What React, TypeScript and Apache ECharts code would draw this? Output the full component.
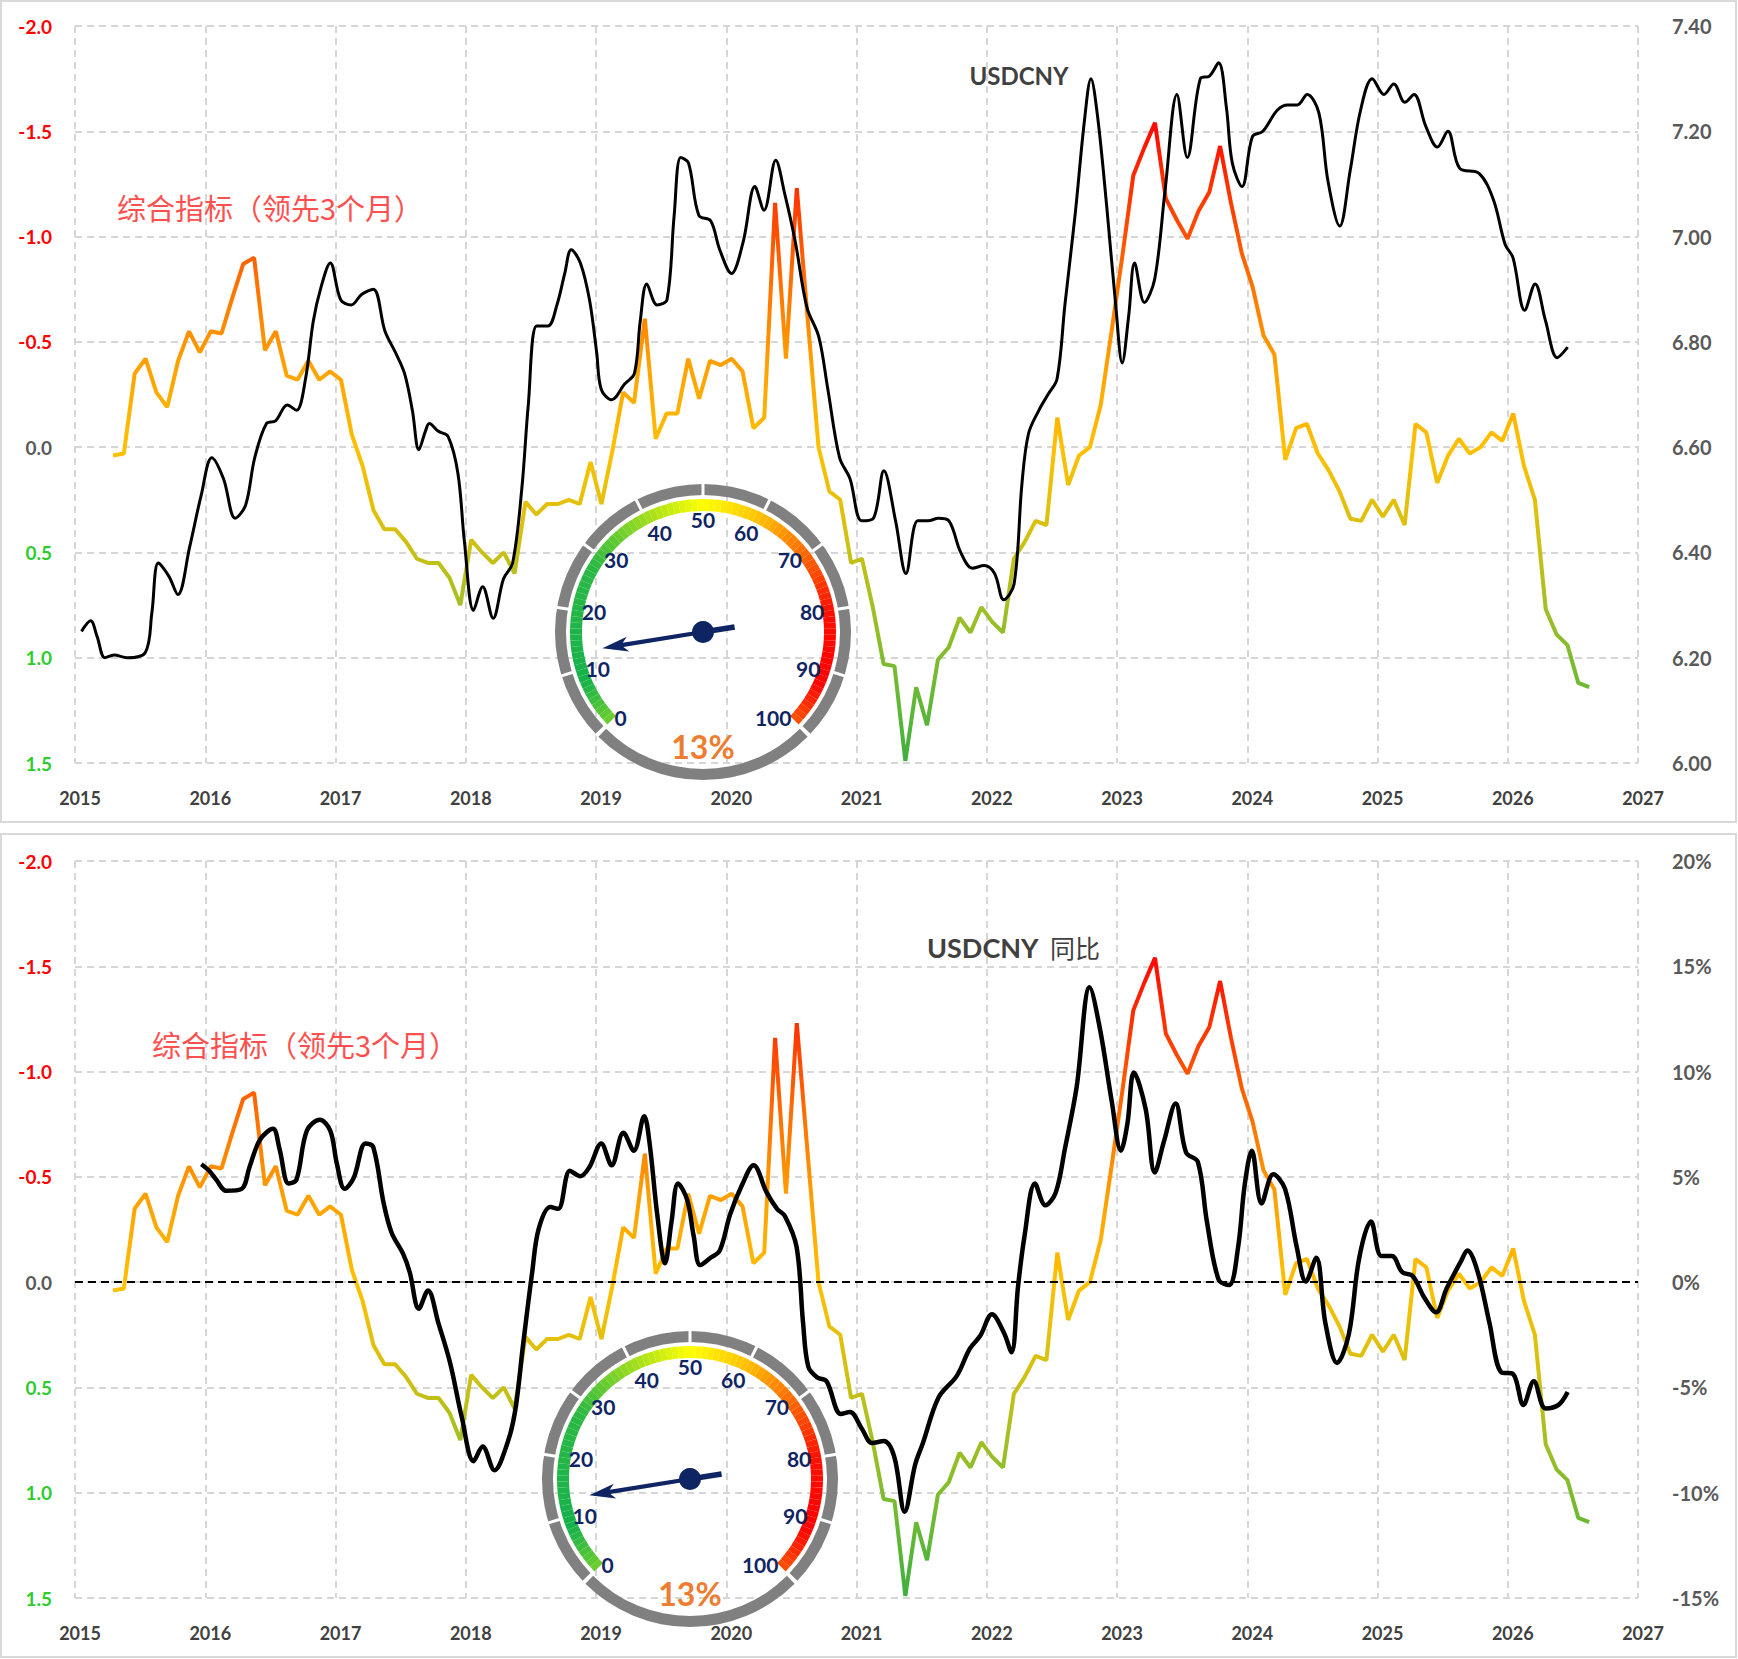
import React, { useEffect, useRef } from "react";
import * as echarts from "echarts";

// 横轴（年份）与两侧纵轴
const X_MIN = 2015;
const X_MAX = 2027;
const IND_MIN = -2;
const IND_MAX = 1.5;
const IND_STEP = 0.5;
const FX_MIN = 6;
const FX_MAX = 7.4;
const FX_STEP = 0.2;
const YOY_MIN = -15;
const YOY_MAX = 20;
const YOY_STEP = 5;

// 综合指标（领先3个月），月度，从 2015 年 4 月中开始
const indicatorStart = 2015 + 3.5 / 12;
const indicator = [
  0.04, 0.03, -0.35, -0.42, -0.26, -0.19, -0.41, -0.55, -0.45, -0.55,
  -0.54, -0.71, -0.87, -0.9, -0.46, -0.55, -0.34, -0.32, -0.41, -0.32,
  -0.36, -0.32, -0.06, 0.09, 0.3, 0.39, 0.39, 0.45, 0.53, 0.55,
  0.55, 0.62, 0.75, 0.44, 0.5, 0.55, 0.5, 0.6, 0.26, 0.32,
  0.27, 0.27, 0.25, 0.27, 0.07, 0.27, 0.02, -0.26, -0.21, -0.61,
  -0.04, -0.16, -0.16, -0.42, -0.23, -0.41, -0.39, -0.42, -0.36, -0.09,
  -0.14, -1.16, -0.42, -1.23, -0.61, 0.0, 0.21, 0.25, 0.55, 0.53,
  0.76, 1.03, 1.04, 1.49, 1.14, 1.32, 1.01, 0.95, 0.81, 0.88,
  0.76, 0.83, 0.88, 0.53, 0.45, 0.35, 0.37, -0.14, 0.18, 0.04,
  0.0, -0.2, -0.55, -0.91, -1.29, -1.42, -1.54, -1.18, -1.08, -0.99,
  -1.12, -1.21, -1.43, -1.16, -0.92, -0.76, -0.53, -0.44, 0.06, -0.09,
  -0.11, 0.03, 0.11, 0.21, 0.34, 0.35, 0.25, 0.33, 0.25, 0.37,
  -0.11, -0.07, 0.17, 0.04, -0.04, 0.03, 0.0, -0.07, -0.03, -0.16,
  0.09, 0.25, 0.77, 0.89, 0.94, 1.12, 1.14,
];

// USDCNY 汇率 [年份, 点位]
const usdcny: [number, number][] = [
  [2015.05, 6.25], [2015.12, 6.27], [2015.17, 6.24], [2015.23, 6.2], [2015.3, 6.205],
  [2015.4, 6.2], [2015.54, 6.21], [2015.59, 6.285], [2015.64, 6.38], [2015.72, 6.355],
  [2015.79, 6.32], [2015.88, 6.41], [2015.97, 6.51],
  [2016.05, 6.58], [2016.14, 6.54], [2016.23, 6.465], [2016.31, 6.49], [2016.38, 6.58],
  [2016.47, 6.645], [2016.54, 6.65], [2016.63, 6.68], [2016.7, 6.67], [2016.77, 6.73],
  [2016.83, 6.84], [2016.89, 6.905], [2016.96, 6.95],
  [2017.04, 6.88], [2017.12, 6.87], [2017.2, 6.89], [2017.29, 6.9], [2017.38, 6.82],
  [2017.46, 6.78], [2017.53, 6.74], [2017.59, 6.67], [2017.64, 6.595], [2017.69, 6.63],
  [2017.72, 6.645], [2017.79, 6.63], [2017.865, 6.62], [2017.94, 6.55], [2017.99, 6.42],
  [2018.06, 6.29], [2018.13, 6.335], [2018.21, 6.275], [2018.29, 6.35], [2018.36, 6.38],
  [2018.43, 6.52], [2018.48, 6.68], [2018.545, 6.83], [2018.63, 6.83], [2018.7, 6.87],
  [2018.76, 6.93], [2018.81, 6.975], [2018.88, 6.95], [2018.95, 6.88],
  [2019.005, 6.78], [2019.04, 6.71], [2019.12, 6.69], [2019.22, 6.72], [2019.295, 6.74],
  [2019.34, 6.84], [2019.39, 6.91], [2019.47, 6.87], [2019.545, 6.88], [2019.6, 7.04],
  [2019.65, 7.15], [2019.71, 7.14], [2019.79, 7.04], [2019.88, 7.03], [2019.95, 6.975],
  [2020.04, 6.93], [2020.13, 6.99], [2020.22, 7.095], [2020.29, 7.05], [2020.38, 7.145],
  [2020.45, 7.08], [2020.53, 6.99], [2020.62, 6.865], [2020.71, 6.81], [2020.78, 6.71],
  [2020.87, 6.58], [2020.95, 6.54],
  [2021.04, 6.46], [2021.13, 6.465], [2021.21, 6.555], [2021.3, 6.46], [2021.38, 6.36],
  [2021.47, 6.46], [2021.55, 6.46], [2021.63, 6.465], [2021.71, 6.46], [2021.8, 6.4],
  [2021.89, 6.37], [2021.98, 6.375],
  [2022.06, 6.36], [2022.13, 6.31], [2022.21, 6.34], [2022.27, 6.53], [2022.32, 6.625],
  [2022.4, 6.67], [2022.47, 6.7], [2022.54, 6.73], [2022.6, 6.87], [2022.68, 7.045],
  [2022.75, 7.22], [2022.8, 7.3], [2022.85, 7.23], [2022.92, 7.06], [2022.99, 6.87],
  [2023.04, 6.76], [2023.09, 6.85], [2023.135, 6.95], [2023.21, 6.875], [2023.29, 6.92],
  [2023.37, 7.09], [2023.46, 7.27], [2023.54, 7.15], [2023.64, 7.3], [2023.71, 7.305],
  [2023.78, 7.33], [2023.84, 7.245], [2023.885, 7.14], [2023.96, 7.095],
  [2024.04, 7.19], [2024.12, 7.2], [2024.23, 7.24], [2024.31, 7.25], [2024.385, 7.25],
  [2024.46, 7.27], [2024.55, 7.235], [2024.62, 7.105], [2024.71, 7.02], [2024.79, 7.125],
  [2024.87, 7.24], [2024.96, 7.3],
  [2025.05, 7.27], [2025.125, 7.29], [2025.21, 7.255], [2025.28, 7.27], [2025.37, 7.21],
  [2025.46, 7.17], [2025.54, 7.2], [2025.63, 7.13], [2025.78, 7.12], [2025.89, 7.07],
  [2025.98, 6.985],
  [2026.04, 6.96], [2026.13, 6.86], [2026.21, 6.91], [2026.29, 6.84], [2026.38, 6.77],
  [2026.46, 6.79],
];

// USDCNY 同比 % [年份, 同比]
const usdcnyYoy: [number, number][] = [
  [2015.97, 5.6], [2016.03, 5.29], [2016.085, 4.86], [2016.16, 4.34], [2016.28, 4.43],
  [2016.34, 5.47], [2016.42, 6.76], [2016.52, 7.28], [2016.57, 6.33], [2016.64, 4.69],
  [2016.7, 4.86], [2016.78, 7.19], [2016.88, 7.71], [2016.96, 7.19],
  [2017.01, 5.64], [2017.07, 4.43], [2017.14, 4.95], [2017.23, 6.59], [2017.29, 6.41],
  [2017.37, 3.74], [2017.43, 2.36], [2017.52, 1.33], [2017.57, 0.47], [2017.64, -1.26],
  [2017.71, -0.4], [2017.79, -1.95], [2017.88, -3.84], [2017.97, -6.43],
  [2018.06, -8.5], [2018.13, -7.81], [2018.22, -8.93], [2018.32, -7.64], [2018.38, -6.09],
  [2018.44, -2.98], [2018.51, 0.47], [2018.56, 2.53], [2018.65, 3.57], [2018.71, 3.48],
  [2018.8, 5.29], [2018.88, 5.03], [2018.95, 5.47],
  [2019.04, 6.59], [2019.12, 5.55], [2019.21, 7.1], [2019.29, 6.24], [2019.37, 7.88],
  [2019.41, 6.67], [2019.47, 3.22], [2019.53, 0.9], [2019.58, 2.88], [2019.63, 4.69],
  [2019.7, 3.91], [2019.75, 2.19], [2019.8, 0.81], [2019.88, 1.16], [2019.95, 1.5],
  [2020.03, 3.22], [2020.12, 4.6], [2020.21, 5.55], [2020.31, 4.26], [2020.39, 3.48],
  [2020.45, 3.14], [2020.54, 1.67], [2020.59, -1.95], [2020.63, -4.02], [2020.7, -4.53],
  [2020.77, -4.71], [2020.88, -6.26], [2020.95, -6.17],
  [2021.04, -6.95], [2021.12, -7.64], [2021.21, -7.55], [2021.29, -8.3], [2021.37, -10.9],
  [2021.45, -8.67], [2021.51, -7.64], [2021.63, -5.48], [2021.77, -4.45], [2021.87, -3.16],
  [2021.95, -2.55],
  [2022.04, -1.52], [2022.13, -2.38], [2022.19, -3.33], [2022.24, -0.22], [2022.29, 2.19],
  [2022.37, 4.69], [2022.45, 3.65], [2022.53, 4.26], [2022.6, 6.33], [2022.69, 9.26],
  [2022.79, 14.0], [2022.87, 12.0], [2022.96, 8.57],
  [2023.03, 6.24], [2023.08, 7.53], [2023.13, 9.95], [2023.22, 8.22], [2023.29, 5.21],
  [2023.36, 6.67], [2023.45, 8.48], [2023.53, 6.16], [2023.62, 5.72], [2023.69, 2.88],
  [2023.78, 0.12], [2023.86, -0.14], [2023.93, 1.67], [2023.98, 4.6],
  [2024.035, 6.24], [2024.11, 3.74], [2024.2, 5.12], [2024.29, 4.43], [2024.38, 1.67],
  [2024.45, 0.03], [2024.53, 1.16], [2024.6, -1.95], [2024.69, -3.84], [2024.78, -2.47],
  [2024.86, 1.16], [2024.95, 2.88],
  [2025.03, 1.24], [2025.11, 1.24], [2025.19, 0.47], [2025.27, 0.29], [2025.36, -0.74],
  [2025.45, -1.43], [2025.53, -0.31], [2025.64, 0.98], [2025.69, 1.5], [2025.77, 0.47],
  [2025.86, -1.95], [2025.95, -4.28],
  [2026.04, -4.36], [2026.12, -5.83], [2026.2, -4.71], [2026.29, -6.0], [2026.39, -5.83],
  [2026.46, -5.22],
];

// 仪表盘读数
const gaugeValue = 13;

const INDICATOR_TITLE = "综合指标（领先3个月）";

const NAVY = "#0f2463";
const GRAY_TEXT = "#595959";
const GRID_LINE = { color: "#d6d6d6", width: 2, type: [7, 5] as number[] };

// 指标线按数值着色：负值偏红，正值偏绿
const indicatorColors = [
  "#ff0000", "#ff3600", "#ff6e00", "#ffa000", "#ffc000",
  "#d6c010", "#9cbf26", "#64b836", "#30ab42",
];

// 仪表盘色带
const arcStops: [number, string][] = [
  [0, "#6fcf2e"], [0.08, "#16b14b"], [0.28, "#2cb944"], [0.4, "#9ddc1c"],
  [0.5, "#ffff00"], [0.6, "#ffbe00"], [0.7, "#ff6400"], [0.8, "#ff1000"],
  [0.92, "#ff0000"], [1, "#ff5200"],
];

function mixHex(a: string, b: string, t: number) {
  const ca = [1, 3, 5].map((i) => parseInt(a.slice(i, i + 2), 16));
  const cb = [1, 3, 5].map((i) => parseInt(b.slice(i, i + 2), 16));
  return (
    "#" +
    ca.map((c, k) => Math.round(c + (cb[k] - c) * t).toString(16).padStart(2, "0")).join("")
  );
}

function arcBand(steps = 100): [number, string][] {
  const out: [number, string][] = [];
  for (let s = 1; s <= steps; s++) {
    const f = (s - 0.5) / steps;
    let k = 0;
    while (k < arcStops.length - 2 && f > arcStops[k + 1][0]) k++;
    const [f0, c0] = arcStops[k];
    const [f1, c1] = arcStops[k + 1];
    out.push([s / steps, mixHex(c0, c1, (f - f0) / (f1 - f0))]);
  }
  return out;
}

const POINTER_ICON =
  "path://M7 0 L14 26 L9 21 L9 102 L9.6 102 L9.6 134 L4.4 134 L4.4 102 L5 102 L5 21 L0 26 Z";

function gauge(center: [number, number]) {
  const base = {
    type: "gauge",
    center,
    min: 0,
    max: 100,
    silent: true,
    z: 6,
    axisTick: { show: false },
    title: { show: false },
  };
  const none = {
    axisLabel: { show: false },
    pointer: { show: false },
    anchor: { show: false },
    detail: { show: false },
    data: [{ value: 0 }],
  };
  return [
    {
      ...base,
      ...none,
      radius: 148,
      startAngle: -45,
      endAngle: -135,
      axisLine: { lineStyle: { width: 11, color: [[1, "#808080"]] } },
      splitLine: { show: false },
    },
    {
      ...base,
      ...none,
      radius: 148,
      startAngle: 224,
      endAngle: -44,
      splitNumber: 10,
      axisLine: { lineStyle: { width: 11, color: [[1, "#808080"]] } },
      splitLine: { show: true, distance: -12, length: 13, lineStyle: { color: "#ffffff", width: 3 } },
    },
    {
      ...base,
      radius: 133,
      startAngle: 224,
      endAngle: -44,
      splitNumber: 10,
      axisLine: { lineStyle: { width: 12, color: arcBand() } },
      splitLine: { show: false, length: 0, distance: 0 },
      axisLabel: {
        distance: 10,
        align: "center",
        verticalAlign: "middle",
        color: NAVY,
        fontSize: 21,
        fontWeight: "bold",
        fontFamily: "Lato",
      },
      pointer: {
        show: true,
        icon: POINTER_ICON,
        length: 134,
        width: 15,
        offsetCenter: [0, 32],
        keepAspect: false,
        itemStyle: { color: NAVY },
      },
      anchor: { show: true, showAbove: true, size: 22, itemStyle: { color: NAVY } },
      detail: {
        offsetCenter: [0, 114],
        formatter: "{value}%",
        fontSize: 32,
        fontFamily: "Lato",
        color: "#ed7d31",
      },
      data: [{ value: gaugeValue }],
    },
  ];
}

const indColor = (v: string) => {
  const n = Number(v);
  return n < 0 ? "#ff0000" : n > 0 ? "#2ecc2e" : GRAY_TEXT;
};

function xAxis(gridIndex: number) {
  return {
    type: "value",
    gridIndex,
    min: X_MIN,
    max: X_MAX,
    interval: 1,
    axisLine: { show: false },
    axisTick: { show: false },
    splitLine: { show: true, lineStyle: GRID_LINE },
    axisLabel: {
      margin: 26,
      padding: [0, 0, 0, 10],
      color: "#404040",
      fontSize: 18,
      fontWeight: "bold",
      fontFamily: "Lato",
      formatter: (v: number) => String(v),
    },
  };
}

function indAxis(gridIndex: number) {
  return {
    type: "value",
    gridIndex,
    inverse: true,
    min: IND_MIN,
    max: IND_MAX,
    interval: IND_STEP,
    position: "left",
    axisLine: { show: false },
    axisTick: { show: false },
    splitLine: { show: true, lineStyle: GRID_LINE },
    axisLabel: {
      margin: 23,
      color: indColor,
      fontSize: 19,
      fontWeight: "bold",
      fontFamily: "Lato",
      formatter: (v: number) => v.toFixed(1),
    },
  };
}

function rightAxis(gridIndex: number, min: number, max: number, interval: number, fmt: (v: number) => string) {
  return {
    type: "value",
    gridIndex,
    min,
    max,
    interval,
    position: "right",
    axisLine: { show: false },
    axisTick: { show: false },
    splitLine: { show: false },
    axisLabel: {
      margin: 34,
      color: GRAY_TEXT,
      fontSize: 20,
      fontWeight: "bold",
      fontFamily: "Lato",
      formatter: fmt,
    },
  };
}

function titleText(x: number, y: number, text: string, style: Record<string, unknown>) {
  return {
    type: "text",
    x,
    y,
    z: 10,
    silent: true,
    style: { text, verticalAlign: "middle", ...style },
  };
}

const cjkRed = {
  fill: "#ff5050",
  fontSize: 29,
  fontFamily: "'Noto Sans CJK SC', sans-serif",
};

export default function App() {
  const ref = useRef<HTMLDivElement>(null);

  useEffect(() => {
    document.body.style.margin = "0";
    if (!ref.current) return;
    const chart = echarts.init(ref.current, undefined, { renderer: "svg" });

    const indicatorData = indicator.map((v, i) => [indicatorStart + i / 12, v]);

    chart.setOption({
      animation: false,
      backgroundColor: "#ffffff",
      textStyle: { fontFamily: "Lato" },
      grid: [
        { left: 75, right: 100, top: 26, height: 737 },
        { left: 75, right: 100, top: 861, height: 737 },
      ],
      xAxis: [xAxis(0), xAxis(1)],
      yAxis: [
        indAxis(0),
        rightAxis(0, FX_MIN, FX_MAX, FX_STEP, (v) => v.toFixed(2)),
        indAxis(1),
        rightAxis(1, YOY_MIN, YOY_MAX, YOY_STEP, (v) => `${v}%`),
      ],
      visualMap: {
        type: "continuous",
        show: false,
        seriesIndex: [0, 2],
        dimension: 1,
        min: -1.6,
        max: 1.6,
        inRange: { color: indicatorColors },
      },
      series: [
        {
          name: INDICATOR_TITLE,
          type: "line",
          xAxisIndex: 0,
          yAxisIndex: 0,
          data: indicatorData,
          symbol: "none",
          lineStyle: { width: 4 },
          z: 3,
        },
        {
          name: "USDCNY",
          type: "line",
          xAxisIndex: 0,
          yAxisIndex: 1,
          data: usdcny,
          symbol: "none",
          smooth: 0.35,
          lineStyle: { width: 3, color: "#000000" },
          z: 4,
        },
        {
          name: INDICATOR_TITLE,
          type: "line",
          xAxisIndex: 1,
          yAxisIndex: 2,
          data: indicatorData,
          symbol: "none",
          lineStyle: { width: 4 },
          z: 3,
        },
        {
          name: "USDCNY 同比",
          type: "line",
          xAxisIndex: 1,
          yAxisIndex: 3,
          data: usdcnyYoy,
          symbol: "none",
          smooth: 0.35,
          lineStyle: { width: 4.5, color: "#000000" },
          z: 4,
          markLine: {
            silent: true,
            symbol: "none",
            label: { show: false },
            lineStyle: { color: "#000000", width: 2, type: [8, 5] },
            data: [{ yAxis: 0 }],
          },
        },
        ...gauge([703, 632]),
        ...gauge([690, 1479]),
      ],
      graphic: [
        {
          type: "rect",
          silent: true,
          shape: { x: 1, y: 1, width: 1735, height: 821 },
          style: { fill: "none", stroke: "#d9d9d9", lineWidth: 2 },
        },
        {
          type: "rect",
          silent: true,
          shape: { x: 1, y: 834, width: 1735, height: 823 },
          style: { fill: "none", stroke: "#d9d9d9", lineWidth: 2 },
        },
        titleText(117, 207, INDICATOR_TITLE, cjkRed),
        titleText(152, 1044, INDICATOR_TITLE, cjkRed),
        titleText(1019, 75, "USDCNY", {
          fill: "#404040",
          fontSize: 24,
          fontWeight: "bold",
          fontFamily: "Lato",
          align: "center",
        }),
        titleText(927, 947, "USDCNY", {
          fill: "#404040",
          fontSize: 27,
          fontWeight: "bold",
          fontFamily: "Lato",
        }),
        titleText(1050, 947, "同比", {
          fill: "#404040",
          fontSize: 25,
          fontFamily: "'Noto Sans CJK SC', sans-serif",
        }),
      ],
    });

    return () => chart.dispose();
  }, []);

  return <div ref={ref} style={{ width: 1738, height: 1659 }} />;
}
